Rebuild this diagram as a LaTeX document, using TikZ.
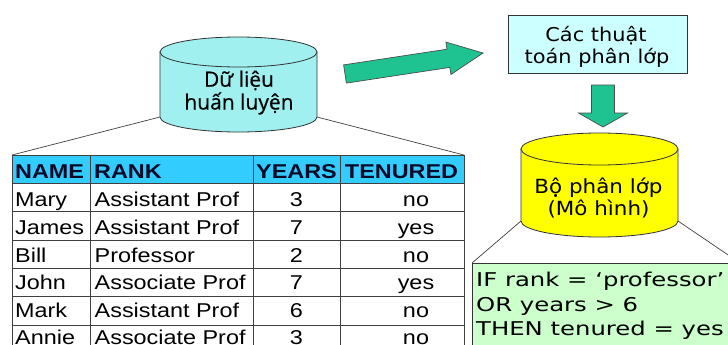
\documentclass[tikz,border=0pt]{standalone}
\usepackage{fontspec}
\setmainfont{DejaVu Sans}
\newfontfamily\tabfont[FakeStretch=1.17]{Liberation Sans}
\newfontfamily\comicfont[FakeStretch=1.1]{DejaVu Sans}
\newfontfamily\rulefont[FakeStretch=1.28]{DejaVu Sans}
\newfontfamily\dbfont[FakeBold=0.5]{Open Sans}
\definecolor{cylcyan}{RGB}{160,240,240}
\definecolor{boxcyan}{RGB}{204,255,255}
\definecolor{arrowgreen}{RGB}{30,195,145}
\definecolor{hdrblue}{RGB}{51,204,255}
\definecolor{cylyellow}{RGB}{255,255,0}
\definecolor{rulegreen}{RGB}{204,255,204}
\definecolor{hdrtext}{RGB}{10,10,40}
\begin{document}
\begin{tikzpicture}[x=1pt,y=-1pt,
  outl/.style={draw=black!80, line width=0.8pt},
  thinline/.style={draw=black!75, line width=0.7pt},
  bigarrow/.style={fill=arrowgreen, draw=black!70, line width=0.7pt},
  tabline/.style={draw=black!75, line width=0.9pt},
  cell/.style={inner sep=0pt, font=\tabfont\fontsize{20}{24}\selectfont},
  hdr/.style={inner sep=0pt, text=hdrtext, font=\tabfont\bfseries\fontsize{20}{24}\selectfont},
  dbtext/.style={inner sep=0pt, anchor=base, font=\dbfont\fontsize{21}{25}\selectfont},
  comictext/.style={inner sep=0pt, anchor=base, font=\comicfont\fontsize{19}{23}\selectfont},
  ruletext/.style={inner sep=0pt, anchor=base west, font=\rulefont\fontsize{19}{23}\selectfont},
  algobox/.style={outl, fill=boxcyan, inner sep=0pt, minimum width=179pt, minimum height=58pt},
  rulebox/.style={outl, fill=rulegreen, inner sep=0pt, minimum width=268pt, minimum height=100pt}
]
\useasboundingbox (0,0) rectangle (728,345);
\clip (0,0) rectangle (728,345);

% connection coordinates
\coordinate (db1L) at (160,117);
\coordinate (db1R) at (317,117);
\coordinate (tabTL) at (12,155);
\coordinate (tabTR) at (464,155);
\coordinate (db2L) at (521,221);
\coordinate (db2R) at (678,221);
\coordinate (rbTL) at (472,263);
\coordinate (rbTR) at (740,263);

% connector lines
\draw[thinline] (db1L) -- (tabTL);
\draw[thinline] (db1R) -- (tabTR);
\draw[thinline] (db2L) -- (rbTL);
\draw[thinline] (db2R) -- (rbTR);

% cylinder 1: training data
\filldraw[outl, fill=cylcyan] (160,52) -- (160,117)
  arc[start angle=180, end angle=360, x radius=78.5pt, y radius=15pt]
  -- (317,52) -- cycle;
\filldraw[outl, fill=cylcyan] (238.5,52) ellipse [x radius=78.5pt, y radius=15pt];
\node[dbtext] (db1a) at (239,86.7) {Dữ liệu};
\node[dbtext] (db1b) at (239,109.5) {huấn luyện};

% big arrow to algorithms
\filldraw[bigarrow] (343.6,64.9) -- (447.0,49.2) -- (445.9,42.1) -- (483,53)
  -- (450.9,74.5) -- (449.8,67.4) -- (346.4,83.1) -- cycle;

% algorithms box
\node[algobox] (algo) at (597.5,44) {};
\node[comictext] (algoa) at (596,42) {Các thuật};
\node[comictext] (algob) at (597,63.5) {toán phân lớp};

% down arrow
\filldraw[bigarrow] (591.5,85) -- (614.5,85) -- (614.5,113) -- (627.5,113)
  -- (603,127) -- (578.5,113) -- (591.5,113) -- cycle;

% cylinder 2: classifier
\filldraw[outl, fill=cylyellow] (521,149) -- (521,221)
  arc[start angle=180, end angle=360, x radius=78.5pt, y radius=16pt]
  -- (678,149) -- cycle;
\filldraw[outl, fill=cylyellow] (599.5,149) ellipse [x radius=78.5pt, y radius=16pt];
\node[comictext, font=\comicfont\fontsize{19.5}{23}\selectfont] (db2a) at (598.5,193) {Bộ phân lớp};
\node[comictext, font=\comicfont\fontsize{19.5}{23}\selectfont] (db2b) at (598.5,215.5) {(Mô hình)};

% rules box
\node[rulebox, anchor=north west] (rules) at (rbTL) {};
\node[ruletext] (rule1) at (476,286.7) {IF rank = ‘professor’};
\node[ruletext] (rule2) at (476,311.2) {OR years > 6};
\node[ruletext] (rule3) at (476,335) {THEN tenured = yes};

% table
\fill[hdrblue] (12,155) rectangle (464,183);
\foreach \yy in {155,183,211.5,240,268.3,296.7,325,353.3}
  \draw[tabline] (12,\yy) -- (464,\yy);
\foreach \xx in {12,90,253,340,464}
  \draw[tabline] (\xx,155) -- (\xx,353.3);
\node[hdr, anchor=base west] (hname) at (15,178.7) {NAME};
\node[hdr, anchor=base west] (hrank) at (94,178.7) {RANK};
\node[hdr, anchor=base] (hyears) at (296.5,178.7) {YEARS};
\node[hdr, anchor=base] (htenured) at (401.5,178.7) {TENURED};
\foreach [count=\i] \nm/\rk/\yv/\tv in {Mary/Assistant Prof/3/no,
    James/Assistant Prof/7/yes, Bill/Professor/2/no,
    John/Associate Prof/7/yes, Mark/Assistant Prof/6/no,
    Annie/Associate Prof/3/no}{
  \pgfmathsetmacro\by{206.7+27.65*(\i-1)}
  \node[cell, anchor=base west] (nm\i) at (15,\by) {\nm};
  \node[cell, anchor=base west] (rk\i) at (94.5,\by) {\rk};
  \node[cell, anchor=base] (yr\i) at (296.5,\by) {\yv};
  \node[cell, anchor=base] (tn\i) at (416,\by) {\tv};
}
\end{tikzpicture}
\end{document}
